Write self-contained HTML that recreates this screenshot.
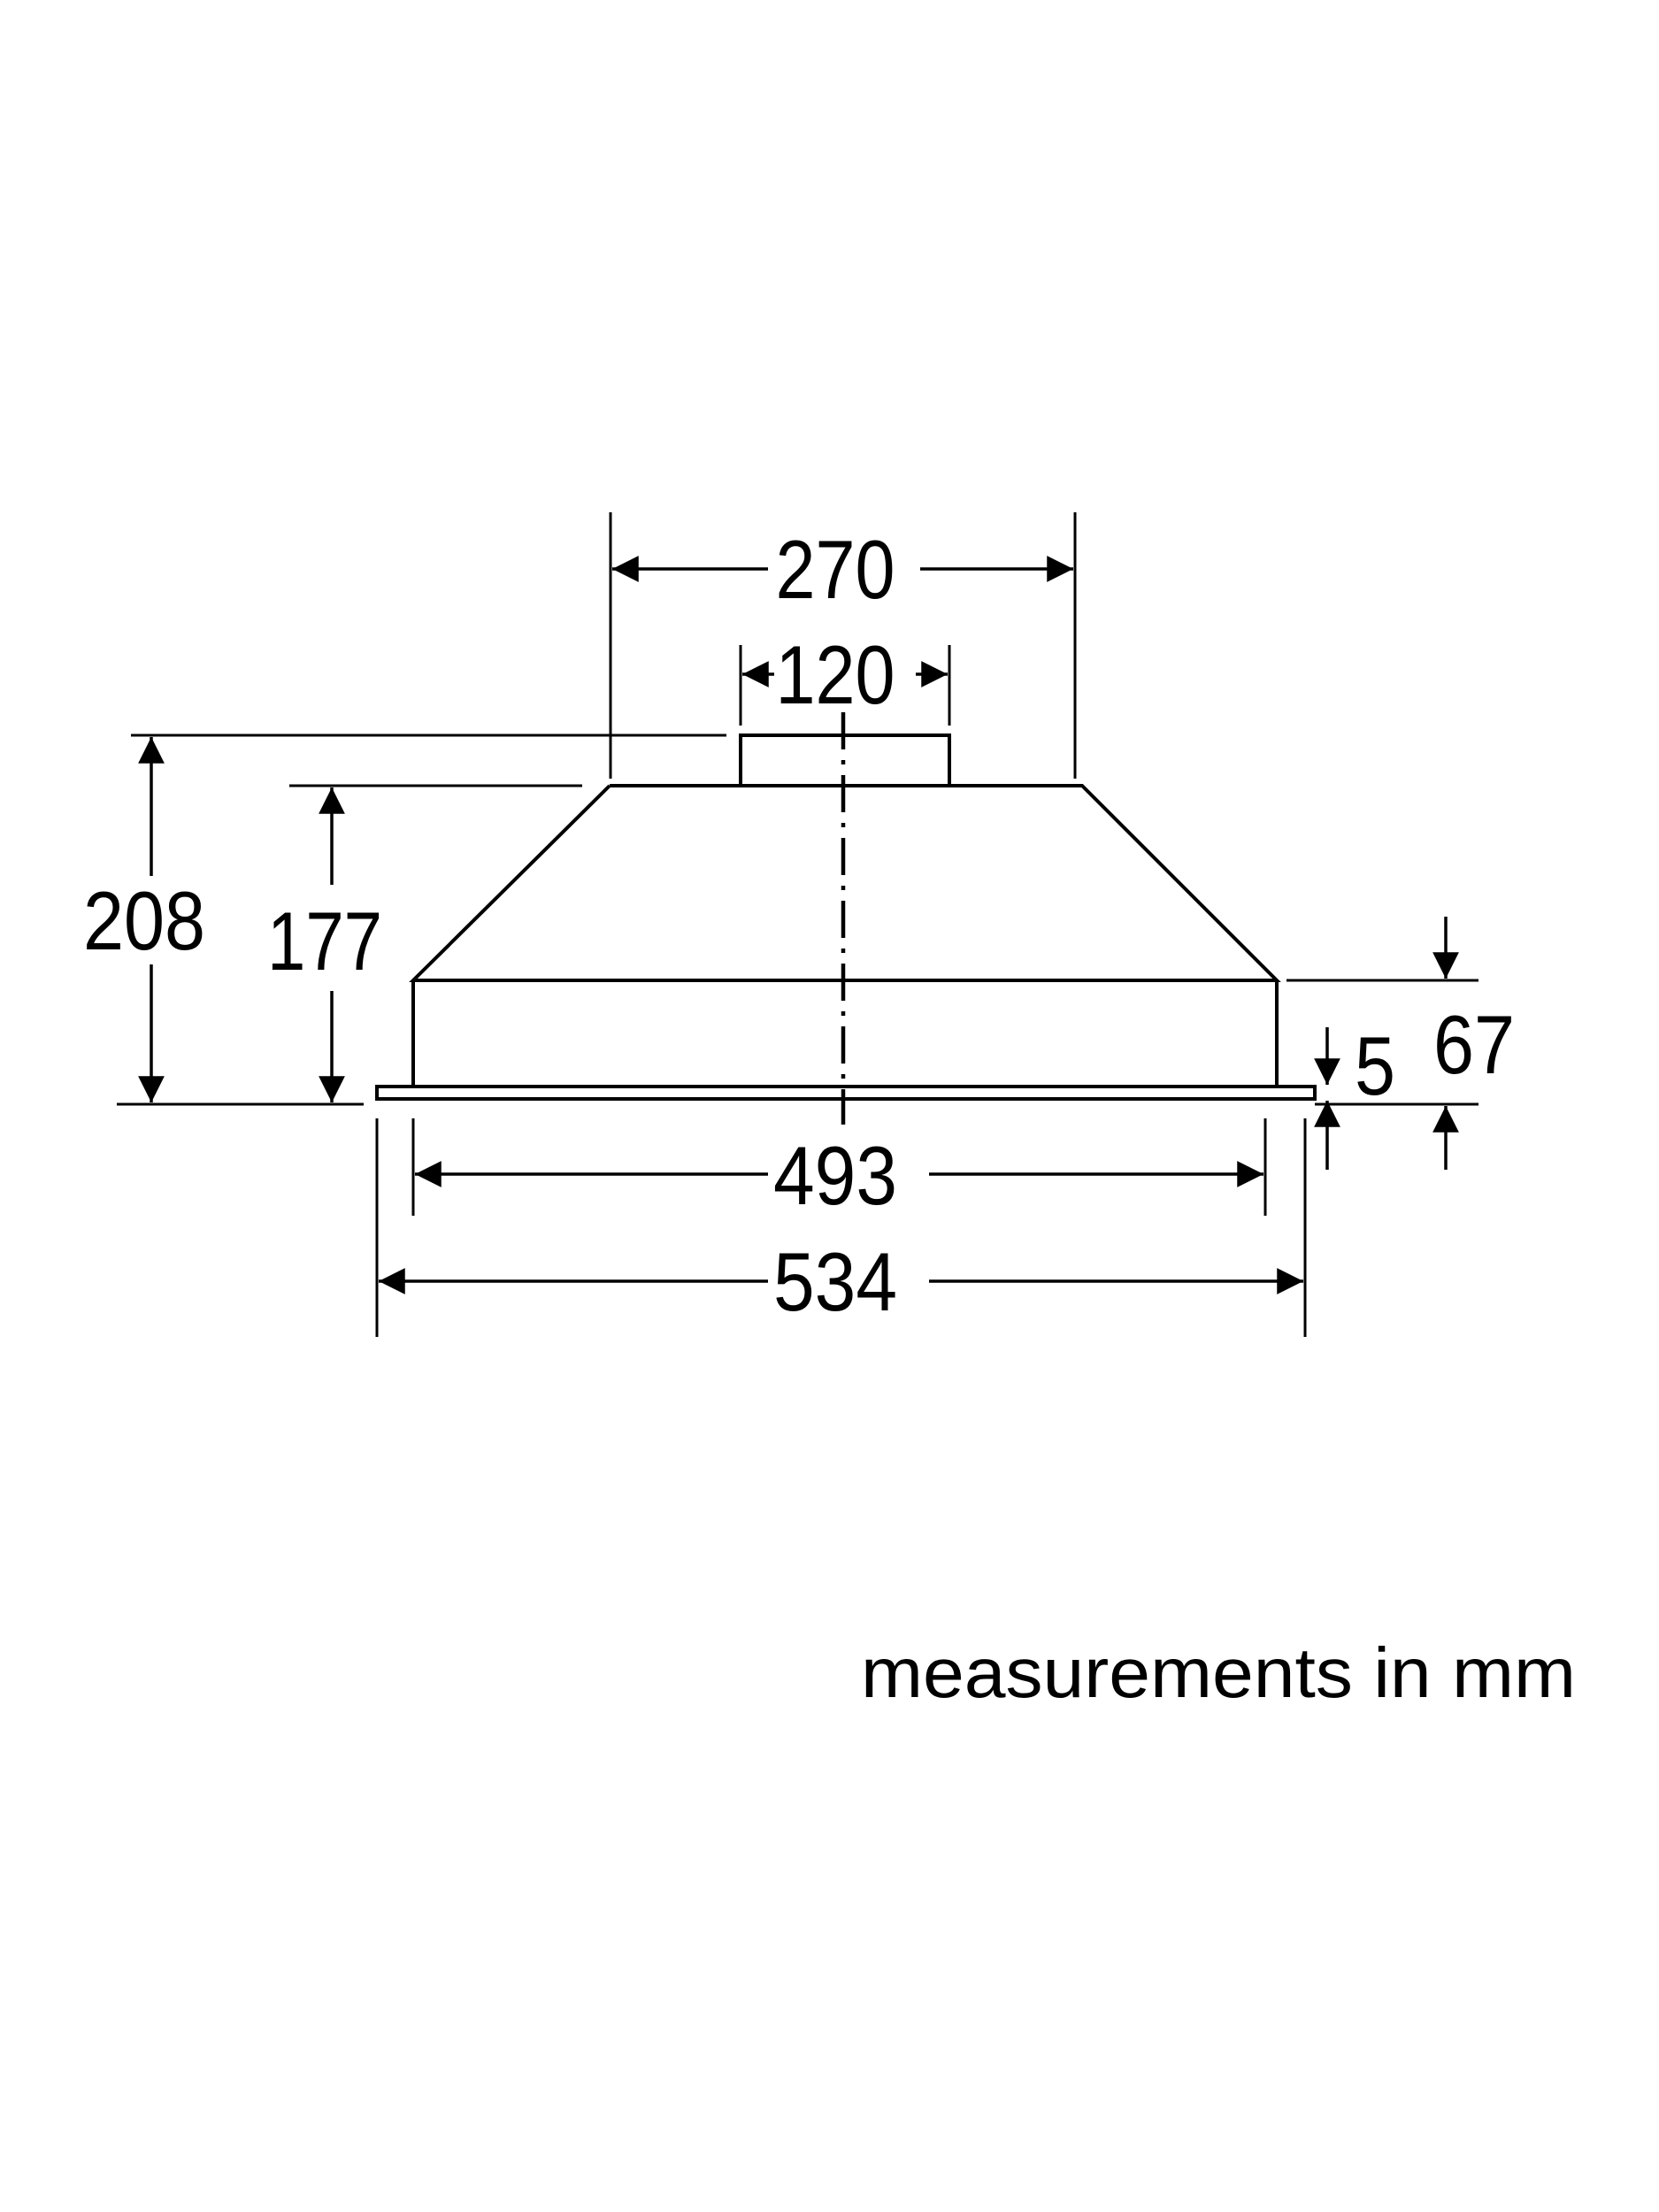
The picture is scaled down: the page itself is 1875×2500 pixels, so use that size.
<!DOCTYPE html>
<html><head><meta charset="utf-8"><style>html,body{margin:0;padding:0;background:#fff}svg{display:block}</style></head>
<body>
<svg width="1875" height="2500" viewBox="0 0 1875 2500" xmlns="http://www.w3.org/2000/svg">
<defs>
<marker id="a" viewBox="0 0 10 10" refX="10" refY="5" markerWidth="11" markerHeight="8.5" markerUnits="strokeWidth" orient="auto-start-reverse"><path d="M0,0L10,5L0,10z" fill="#000"/></marker>
</defs>
<g stroke="#000" stroke-width="3.5" fill="none">
<rect x="837" y="831" width="236" height="57" stroke-width="4"/>
<polyline points="689,888 1223,888 1443,1108 467,1108 689,888" stroke-width="4"/>
<line x1="467" y1="1108" x2="467" y2="1228" stroke-width="4"/>
<line x1="1443" y1="1108" x2="1443" y2="1228" stroke-width="4"/>
<rect x="426" y="1228" width="1060" height="14" stroke-width="4"/>
<line x1="953" y1="805" x2="953" y2="1271" stroke-width="4.5" stroke-dasharray="42,12,5,12"/>
<line x1="690" y1="579" x2="690" y2="880" stroke-width="3"/>
<line x1="1215" y1="579" x2="1215" y2="880" stroke-width="3"/>
<line x1="868" y1="643" x2="692" y2="643" marker-end="url(#a)"/>
<line x1="1040" y1="643" x2="1213" y2="643" marker-end="url(#a)"/>
<line x1="837" y1="729" x2="837" y2="820" stroke-width="3"/>
<line x1="1073" y1="729" x2="1073" y2="820" stroke-width="3"/>
<line x1="875" y1="762" x2="839" y2="762" marker-end="url(#a)"/>
<line x1="1035" y1="762" x2="1071" y2="762" marker-end="url(#a)"/>
<line x1="148" y1="831" x2="821" y2="831" stroke-width="3"/>
<line x1="132" y1="1248" x2="411" y2="1248" stroke-width="3"/>
<line x1="171" y1="990" x2="171" y2="833" marker-end="url(#a)"/>
<line x1="171" y1="1090" x2="171" y2="1246" marker-end="url(#a)"/>
<line x1="327" y1="888" x2="658" y2="888" stroke-width="3"/>
<line x1="375" y1="1000" x2="375" y2="890" marker-end="url(#a)"/>
<line x1="375" y1="1120" x2="375" y2="1246" marker-end="url(#a)"/>
<line x1="467" y1="1264" x2="467" y2="1374" stroke-width="3"/>
<line x1="1430" y1="1264" x2="1430" y2="1374" stroke-width="3"/>
<line x1="868" y1="1327" x2="469" y2="1327" marker-end="url(#a)"/>
<line x1="1050" y1="1327" x2="1428" y2="1327" marker-end="url(#a)"/>
<line x1="426" y1="1264" x2="426" y2="1511" stroke-width="3"/>
<line x1="1475" y1="1264" x2="1475" y2="1511" stroke-width="3"/>
<line x1="868" y1="1448" x2="428" y2="1448" marker-end="url(#a)"/>
<line x1="1050" y1="1448" x2="1473" y2="1448" marker-end="url(#a)"/>
<line x1="1454" y1="1108" x2="1671" y2="1108" stroke-width="3"/>
<line x1="1486" y1="1248" x2="1671" y2="1248" stroke-width="3"/>
<line x1="1634" y1="1036" x2="1634" y2="1106" marker-end="url(#a)"/>
<line x1="1634" y1="1322" x2="1634" y2="1250" marker-end="url(#a)"/>
<line x1="1500" y1="1161" x2="1500" y2="1226" marker-end="url(#a)"/>
<line x1="1500" y1="1322" x2="1500" y2="1244" marker-end="url(#a)"/>
</g>
<g font-family="Liberation Sans, sans-serif" font-size="94" fill="#000">
<text x="944" y="676" text-anchor="middle" textLength="135" lengthAdjust="spacingAndGlyphs">270</text>
<text x="944" y="795" text-anchor="middle" textLength="135" lengthAdjust="spacingAndGlyphs">120</text>
<text x="163" y="1073" text-anchor="middle" textLength="138" lengthAdjust="spacingAndGlyphs">208</text>
<text x="367" y="1096" text-anchor="middle" textLength="130" lengthAdjust="spacingAndGlyphs">177</text>
<text x="944" y="1361" text-anchor="middle" textLength="140" lengthAdjust="spacingAndGlyphs">493</text>
<text x="944" y="1481" text-anchor="middle" textLength="140" lengthAdjust="spacingAndGlyphs">534</text>
<text x="1666" y="1213" text-anchor="middle" textLength="92" lengthAdjust="spacingAndGlyphs">67</text>
<text x="1554" y="1237" text-anchor="middle" textLength="46" lengthAdjust="spacingAndGlyphs">5</text>
<text x="973" y="1918" font-size="80" textLength="808" lengthAdjust="spacingAndGlyphs">measurements in mm</text>
</g>
</svg>
</body></html>
